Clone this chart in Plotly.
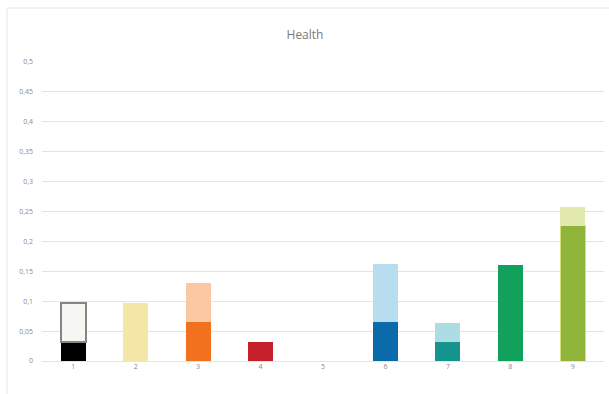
import plotly.graph_objects as go

# Category labels along the x axis
categories = ["1", "2", "3", "4", "5", "6", "7", "8", "9"]

# Lower (solid) segment of each bar
base_values = [0.032, 0.097, 0.065, 0.032, 0.0, 0.065, 0.032, 0.161, 0.226]
# Upper (lighter) segment stacked on top
top_values = [0.065, 0.0, 0.065, 0.0, 0.0, 0.097, 0.032, 0.0, 0.032]

base_colors = ["#000000", "#f4e6a6", "#f2711f", "#c41f2b", "#ffffff",
               "#0b6aa9", "#14948c", "#12a15a", "#8fb43a"]
base_line_colors = ["rgba(0,0,0,0)", "rgba(0,0,0,0)", "rgba(0,0,0,0)", "rgba(0,0,0,0)",
                    "rgba(0,0,0,0)", "rgba(0,0,0,0)", "rgba(0,0,0,0)",
                    "rgba(0,0,0,0)", "#d4e07a"]
top_colors = ["#f6f6f2", "#f4e6a6", "#fac9a4", "#c41f2b", "#ffffff",
              "#b7ddef", "#acdde2", "#12a15a", "#e2eab0"]
top_line_colors = ["#858585", "rgba(0,0,0,0)", "rgba(0,0,0,0)", "rgba(0,0,0,0)",
                   "rgba(0,0,0,0)", "rgba(0,0,0,0)", "rgba(0,0,0,0)",
                   "rgba(0,0,0,0)", "rgba(0,0,0,0)"]

# Y axis ticks (decimal comma)
y_tickvals = [0, 0.05, 0.1, 0.15, 0.2, 0.25, 0.3, 0.35, 0.4, 0.45, 0.5]
y_ticktext = ["0", "0,05", "0,1", "0,15", "0,2", "0,25", "0,3", "0,35", "0,4", "0,45", "0,5"]

W, H = 609, 394
ML, MR, MT, MB = 42, 5, 62, 33

fig = go.Figure()
fig.add_trace(go.Bar(
    x=categories, y=base_values,
    marker=dict(color=base_colors, line=dict(color=base_line_colors, width=1)),
    width=0.4, hoverinfo="skip",
))
fig.add_trace(go.Bar(
    x=categories, y=top_values,
    marker=dict(color=top_colors, line=dict(color=top_line_colors, width=1.6)),
    width=0.4, hoverinfo="skip",
))

# light frame around the chart area
pw, ph = W - ML - MR, H - MT - MB
fx0 = (7 - ML) / pw
fx1 = (W + 5 - ML) / pw
fy1 = 1 + (MT - 8) / ph
fy0 = -(MB + 5) / ph
fig.add_shape(type="rect", xref="paper", yref="paper",
              x0=fx0, x1=fx1, y0=fy0, y1=fy1,
              line=dict(color="#e6e6e6", width=1), layer="below")

fig.update_layout(
    width=W, height=H,
    barmode="stack",
    showlegend=False,
    plot_bgcolor="white", paper_bgcolor="white",
    margin=dict(l=ML, r=MR, t=MT, b=MB, pad=0),
    title=dict(text="Health", x=(305 - ML) / pw, xref="paper", xanchor="center",
               y=1 - 35 / H, yanchor="middle",
               font=dict(family="Open Sans, sans-serif", size=12, color="#7a7a7a")),
    font=dict(family="Open Sans, sans-serif", size=7, color="#8a8a8a"),
)
fig.update_xaxes(type="category", showgrid=False, zeroline=False, showline=False,
                 ticks="", tickfont=dict(size=7, color="#8a8a8a"))
fig.update_yaxes(range=[0, 0.5], tickvals=y_tickvals, ticktext=y_ticktext,
                 showgrid=True, gridcolor="#e4e4e4", gridwidth=1,
                 zeroline=True, zerolinecolor="#e4e4e4", zerolinewidth=1,
                 showline=False, ticks="", ticklabelstandoff=8,
                 tickfont=dict(size=7, color="#8a8a8a"))

fig.write_html("out.html")
